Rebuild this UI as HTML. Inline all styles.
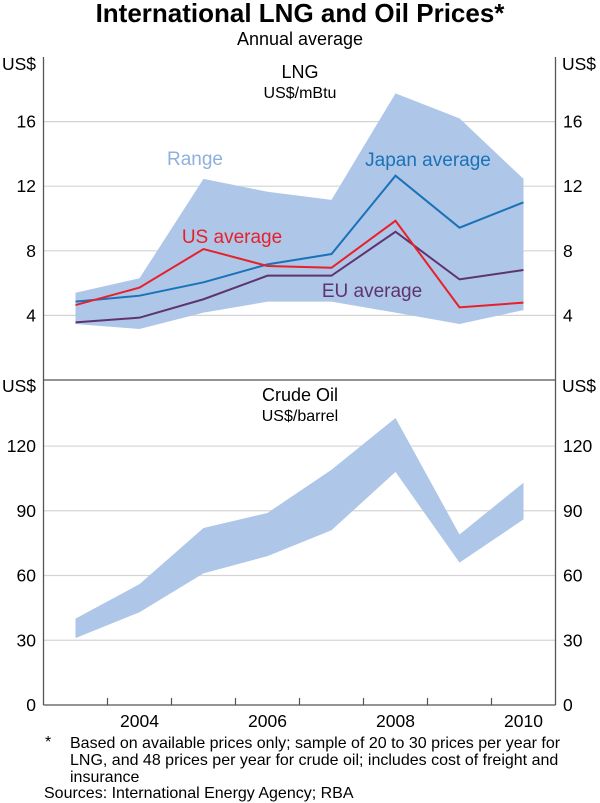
<!DOCTYPE html>
<html><head><meta charset="utf-8"><style>
body{margin:0;background:#fff;}
svg{display:block;font-family:"Liberation Sans",Arial,sans-serif;}
</style></head><body>
<svg id="c" width="600" height="803" viewBox="0 0 600 803">
<text x="300" y="22" text-anchor="middle" font-size="26" font-weight="bold">International LNG and Oil Prices*</text>
<text x="300" y="45" text-anchor="middle" font-size="18">Annual average</text>
<g id="grid"></g>
<g id="marks"></g>
<g id="axes"></g>
<text x="300" y="78" text-anchor="middle" font-size="18">LNG</text>
<text x="300" y="98" text-anchor="middle" font-size="16">US$/mBtu</text>
<text x="300" y="401" text-anchor="middle" font-size="18">Crude Oil</text>
<text x="300" y="421" text-anchor="middle" font-size="16">US$/barrel</text>
<text x="195" y="165" text-anchor="middle" font-size="19" fill="#8eb0de">Range</text>
<text x="428" y="166" text-anchor="middle" font-size="19" fill="#1a72b8">Japan average</text>
<text x="232" y="243" text-anchor="middle" font-size="19" fill="#e8202a">US average</text>
<text x="372" y="297" text-anchor="middle" font-size="19" fill="#5e3470">EU average</text>
<text x="45" y="747" font-size="16">*</text>
<text x="70" y="748" font-size="16">Based on available prices only; sample of 20 to 30 prices per year for</text>
<text x="70" y="765" font-size="16">LNG, and 48 prices per year for crude oil; includes cost of freight and</text>
<text x="70" y="782" font-size="16">insurance</text>
<text x="44" y="798" font-size="16">Sources: International Energy Agency; RBA</text>
</svg>
<script>
const years=[2003,2004,2005,2006,2007,2008,2009,2010];
const lngHigh=[5.4,6.3,12.45,11.66,11.15,17.75,16.2,12.45];
const lngLow=[3.47,3.16,4.17,4.85,4.85,4.17,3.47,4.33];
const japan=[4.85,5.22,6.05,7.16,7.8,12.65,9.43,11.0];
const us=[4.64,5.72,8.11,7.06,6.95,9.86,4.5,4.79];
const eu=[3.57,3.86,5.0,6.46,6.46,9.18,6.23,6.81];
const oilHigh=[40,56,82,89,109,133,79,103];
const oilLow=[31,43,61,69,81,108,66,86];
const lngTicks=[4,8,12,16];
const oilTicks=[0,30,60,90,120];
const yearLabels=[2004,2006,2008,2010];

const NS="http://www.w3.org/2000/svg";
const L=43.5,R=555.5,step=(R-L)/8;
const x=y=>L+step*(y-2003+0.5);
const yT=v=>380-v*16.15;
const yB=v=>705-v*2.158;
function mk(t,a,p){const e=document.createElementNS(NS,t);for(const k in a)e.setAttribute(k,a[k]);document.getElementById(p).appendChild(e);return e;}
const grid="grid",marks="marks",axes="axes";
lngTicks.forEach(v=>{
 const l=mk('line',{x1:L,x2:R,y1:yT(v),y2:yT(v),stroke:'#d4d4d4','stroke-width':1.2},grid);
 
 
 [[36,'end'],[563,'start']].forEach(([tx,an])=>{const t=mk('text',{x:tx,y:yT(v)+6,'text-anchor':an,'font-size':17.5},axes);t.textContent=v;
 
 });
});
oilTicks.forEach(v=>{
 if(v>0){const l=mk('line',{x1:L,x2:R,y1:yB(v),y2:yB(v),stroke:'#d4d4d4','stroke-width':1.2},grid);
 
 }
 [[36,'end'],[563,'start']].forEach(([tx,an])=>{const t=mk('text',{x:tx,y:yB(v)+6,'text-anchor':an,'font-size':17.5},axes);t.textContent=v;
 
 });
});
[[2,70],[562,70],[2,392],[562,392]].forEach(([tx,ty])=>{const t=mk('text',{x:tx,y:ty,'font-size':17.5},axes);t.textContent='US$';
 
 });
function band(hi,lo,yf,name){
 const pts=years.map((yr,i)=>x(yr)+','+yf(hi[i])).concat(years.slice().reverse().map((yr,j)=>x(yr)+','+yf(lo[years.length-1-j])));
 const p=mk('polygon',{points:pts.join(' '),fill:'#aec6e8'},marks);
 
 
}
band(lngHigh,lngLow,yT,'lng-range-band');
band(oilHigh,oilLow,yB,'oil-range-band');
function line(vals,col,name){
 const p=mk('polyline',{points:years.map((yr,i)=>x(yr)+','+yT(vals[i])).join(' '),fill:'none',stroke:col,'stroke-width':2},marks);
 
 
}
line(eu,'#5e3470','eu-average-line');
line(japan,'#1a72b8','japan-average-line');
line(us,'#e8202a','us-average-line');
[[L,57,L,705],[R,57,R,705],[L,380,R,380],[L,705,R,705]].forEach(c=>{
 const l=mk('line',{x1:c[0],y1:c[1],x2:c[2],y2:c[3],stroke:'#555','stroke-width':1.3},axes);
 
 
});
for(let i=1;i<8;i++){const xx=L+step*i;
 const l=mk('line',{x1:xx,x2:xx,y1:705,y2:698,stroke:'#555','stroke-width':1.2},axes);
 
 }
yearLabels.forEach(yr=>{const t=mk('text',{x:x(yr),y:727,'text-anchor':'middle','font-size':17.5},axes);t.textContent=yr;
 
 });
</script>
</body></html>
